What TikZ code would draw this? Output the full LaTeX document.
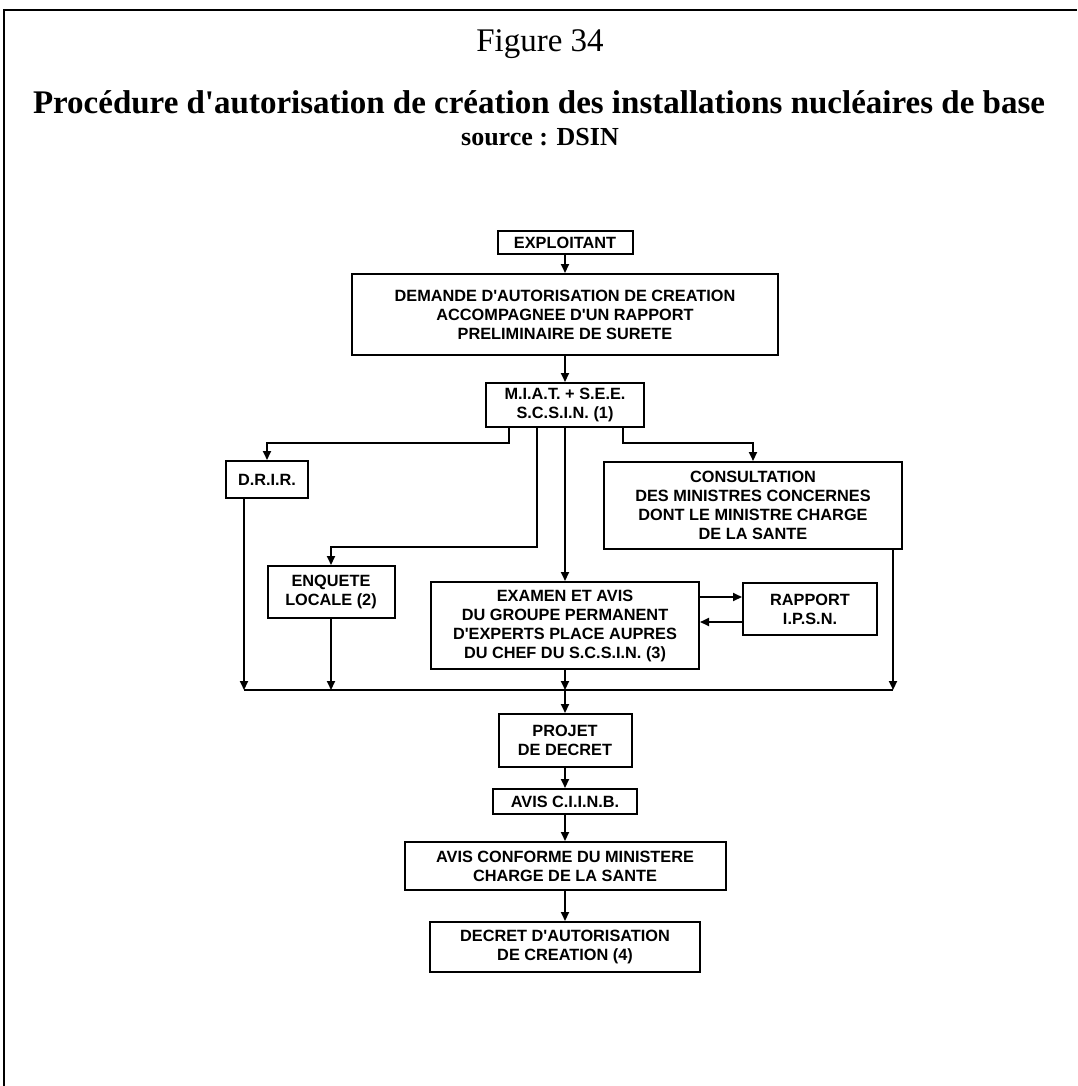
\documentclass[tikz,border=0pt]{standalone}
\usepackage{fontspec}
\setmainfont{Liberation Serif}[Ligatures=TeXOff]
\newfontfamily\boxfont{Liberation Sans}[Ligatures=TeXOff]
\usetikzlibrary{arrows.meta}
\begin{document}
\begin{tikzpicture}[x=1pt,y=-1pt,
  box/.style={draw, line width=2pt, align=center, inner sep=0pt,
    font=\boxfont\bfseries\fontsize{16.3}{19}\selectfont},
  conn/.style={line width=2pt},
  arr/.style={line width=2pt,-{Triangle[length=9pt,width=8pt]}},
  frame/.style={line width=2.4pt}]
\useasboundingbox (0,0) rectangle (1077,1086);
% frame
\draw[frame] (4,1086) -- (4,10) -- (1077,10);
% titles
\node[anchor=base] (fig) at (540,52) {\fontsize{33}{36}\selectfont Figure 34};
\node[anchor=base] (title) at (539,114) {\fontsize{33}{36}\selectfont\bfseries Procédure d'autorisation de création des installations nucléaires de base};
\node[anchor=base] (src) at (540,146) {\fontsize{26}{30}\selectfont\bfseries source : DSIN};
% boxes
\node[box, minimum width=135pt, minimum height=23pt] (EXPL) at (565,242.5) {EXPLOITANT};
\node[box, minimum width=426pt, minimum height=81pt] (DEM) at (565,314.5) {DEMANDE D'AUTORISATION DE CREATION\\ACCOMPAGNEE D'UN RAPPORT\\PRELIMINAIRE DE SURETE};
\node[box, minimum width=158pt, minimum height=44pt] (MIAT) at (565,405) {M.I.A.T. + S.E.E.\\S.C.S.I.N. (1)};
\node[box, minimum width=82pt, minimum height=37pt] (DRIR) at (267,479.5) {D.R.I.R.};
\node[box, minimum width=298pt, minimum height=87pt] (CONS) at (753,505.5) {CONSULTATION\\DES MINISTRES CONCERNES\\DONT LE MINISTRE CHARGE\\DE LA SANTE};
\node[box, minimum width=127pt, minimum height=52pt] (ENQ) at (331,592) {ENQUETE\\LOCALE (2)};
\node[box, minimum width=268pt, minimum height=87pt] (EXAM) at (565,625.5) {EXAMEN ET AVIS\\DU GROUPE PERMANENT\\D'EXPERTS PLACE AUPRES\\DU CHEF DU S.C.S.I.N. (3)};
\node[box, minimum width=134pt, minimum height=52pt] (RAPP) at (810,609) {RAPPORT\\I.P.S.N.};
\node[box, minimum width=133pt, minimum height=53pt] (PROJ) at (565,740.5) {PROJET\\DE DECRET};
\node[box, minimum width=144pt, minimum height=25pt] (CIINB) at (565,801.5) {AVIS C.I.I.N.B.};
\node[box, minimum width=321pt, minimum height=48pt] (CONF) at (565,866) {AVIS CONFORME DU MINISTERE\\CHARGE DE LA SANTE};
\node[box, minimum width=270pt, minimum height=50pt] (DECR) at (565,947) {DECRET D'AUTORISATION\\DE CREATION (4)};
% helper coordinates
\coordinate (b1) at (509,443);
\coordinate (b2) at (537,547);
\coordinate (b3) at (623,443);
\coordinate (busL) at (244,690);
\coordinate (busR) at (893,690);
\coordinate (r1) at (0,597);
\coordinate (r2) at (0,622);
% connectors
\draw[arr] (EXPL) -- (DEM);
\draw[arr] (DEM) -- (MIAT);
\draw[arr] (MIAT.south -| b1) -- (b1) -| (DRIR.north);
\draw[arr] (MIAT.south -| b2) -- (b2) -| (ENQ.north);
\draw[arr] (MIAT.south) -- (EXAM.north);
\draw[arr] (MIAT.south -| b3) -- (b3) -| (CONS.north);
\draw[arr] (EXAM.east |- r1) -- (RAPP.west |- r1);
\draw[arr] (RAPP.west |- r2) -- (EXAM.east |- r2);
\draw[arr] (DRIR.south -| busL) -- (busL);
\draw[arr] (ENQ.south) -- (ENQ.south |- busL);
\draw[arr] (EXAM.south) -- (EXAM.south |- busL);
\draw[arr] (CONS.south -| busR) -- (busR);
\draw[conn] (busL) -- (busR);
\draw[arr] (EXAM.south |- busL) -- (PROJ.north);
\draw[arr] (PROJ) -- (CIINB);
\draw[arr] (CIINB) -- (CONF);
\draw[arr] (CONF) -- (DECR);
\end{tikzpicture}
\end{document}
